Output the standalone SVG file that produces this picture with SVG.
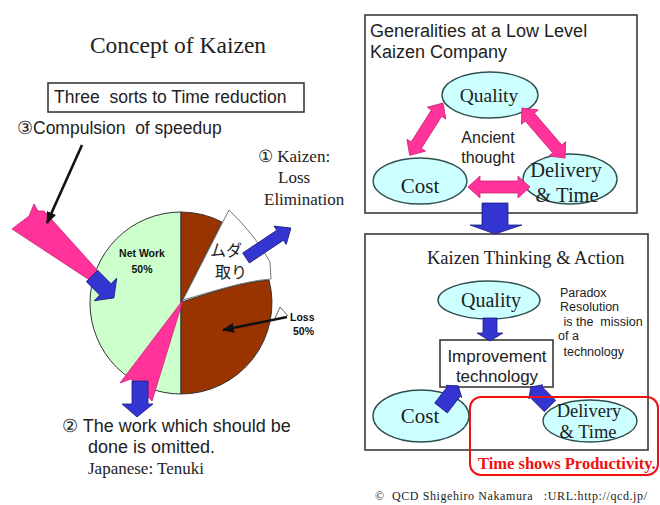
<svg xmlns="http://www.w3.org/2000/svg" width="660" height="505" viewBox="0 0 660 505">
  <style>
    .sans { font-family: "Liberation Sans", Arial, sans-serif; fill: #222; }
    .serif { font-family: "Liberation Serif", "Times New Roman", serif; fill: #222; }
    .pre { white-space: pre; }
    .box { fill: #fff; stroke: #3a3a3a; stroke-width: 1.6; }
    .oval { fill: #ccffff; stroke: #2f4f4f; stroke-width: 1.4; }
    .pink { fill: #ff3399; stroke: #cc2277; stroke-width: 0.8; stroke-linejoin: round; }
    .blue { fill: #3434d0; stroke: #1c1c80; stroke-width: 0.8; stroke-linejoin: round; }
    .ptr { stroke: #111; stroke-width: 2.6; fill: none; marker-end: url(#head); }
    .pct { font-family: "Liberation Sans", Arial, sans-serif; font-weight: bold; font-size: 10.5px; fill: #111; }
  </style>
  <defs>
    <marker id="head" viewBox="0 0 12 10" refX="11" refY="5" markerWidth="12" markerHeight="10" markerUnits="userSpaceOnUse" orient="auto">
      <path d="M0,0 L12,5 L0,10 Z" fill="#111"/>
    </marker>
  </defs>

  <!-- headings on the left -->
  <g id="title">
    <text class="serif" x="178" y="53" font-size="23.5" text-anchor="middle">Concept of Kaizen</text>
  </g>
  <g id="subtitle-box">
    <rect class="box" x="48" y="83" width="256" height="29"/>
    <text class="sans pre" x="54" y="103" font-size="17.5">Three  sorts to Time reduction</text>
  </g>

  <!-- pie of net work vs. loss -->
  <g id="pie">
    <path d="M181,212 A91,91 0 0 0 181,394 Z" fill="#ccffcc" stroke="#333" stroke-width="1"/>
    <path d="M181,303 L181,212 A91,91 0 0 1 222,222 Z" fill="#993300" stroke="#333" stroke-width="1"/>
    <path d="M182,302 C212,292 242,282 269,280 A91,91 0 0 1 181,394 L181,303 Z" fill="#993300" stroke="#333" stroke-width="1"/>
    <path d="M183,300 L229,210 Q256,236 270,262 L271,279 C244,281 214,291 183,300 Z" fill="#fff" stroke="#777" stroke-width="1"/>
    <text x="226" y="256" font-family="'Noto Sans CJK JP', sans-serif" font-size="16" fill="#222" text-anchor="middle">ムダ</text>
    <text x="231" y="278" font-family="'Noto Sans CJK JP', sans-serif" font-size="16" fill="#222" text-anchor="middle">取り</text>
    <text class="pct" x="142" y="257" text-anchor="middle">Net Work</text>
    <text class="pct" x="142" y="273" text-anchor="middle">50%</text>
    <path d="M275,318 L280,307 L288,316" fill="#fff" stroke="#666" stroke-width="1"/>
    <text class="pct" x="290" y="321">Loss</text>
    <text class="pct" x="293" y="335">50%</text>
    <!-- pink wedges -->
    <path class="pink" d="M12,229 C18,224 24,220 29,216 L34,204 L38,211 L44,211 L98,271 L91,281 Z"/>
    <path class="pink" d="M183,300 L120,383 L131,379 L152,401 Z"/>
  </g>

  <g id="label-compulsion">
    <text class="sans pre" x="17" y="134" font-size="17.5">③Compulsion  of speedup</text>
  </g>
  <g id="label-kaizen">
    <text class="serif" x="258" y="162" font-size="17">① Kaizen:</text>
    <text class="serif" x="278" y="183" font-size="17">Loss</text>
    <text class="serif" x="264" y="205" font-size="17">Elimination</text>
  </g>
  <g id="label-omitted">
    <text class="sans" x="62" y="432" font-size="18">② The work which should be</text>
    <text class="sans" x="88" y="453" font-size="18">done is omitted.</text>
    <text class="serif" x="88" y="474" font-size="17">Japanese: Tenuki</text>
  </g>

  <!-- upper panel: low-level kaizen company -->
  <g id="panel-low">
    <rect class="box" x="365" y="15" width="272" height="198"/>
    <text class="sans" x="370" y="37" font-size="18">Generalities at a Low Level</text>
    <text class="sans" x="370" y="58" font-size="18">Kaizen Company</text>
    <text class="sans" x="488" y="143" font-size="16" text-anchor="middle">Ancient</text>
    <text class="sans" x="488" y="163" font-size="16" text-anchor="middle">thought</text>
  </g>
  <g id="q1">
    <ellipse class="oval" cx="490" cy="95" rx="48" ry="23"/>
    <text class="serif" x="489" y="102" font-size="19.5" text-anchor="middle">Quality</text>
  </g>
  <g id="c1">
    <ellipse class="oval" cx="420" cy="181" rx="47" ry="23"/>
    <text class="serif" x="420" y="193" font-size="21" text-anchor="middle">Cost</text>
  </g>
  <g id="d1">
    <ellipse class="oval" cx="570" cy="179" rx="47" ry="25"/>
    <text class="serif" x="566" y="177" font-size="20.5" text-anchor="middle">Delivery</text>
    <text class="serif" x="567" y="202" font-size="20.5" text-anchor="middle">&amp; Time</text>
  </g>

  <!-- lower panel: kaizen thinking -->
  <g id="panel-kaizen">
    <rect class="box" x="365" y="234" width="283" height="216"/>
    <text class="serif" x="427" y="264" font-size="18.5">Kaizen Thinking &amp; Action</text>
  </g>
  <g id="paradox-note">
    <text class="sans" x="560" y="297" font-size="12.5">Paradox</text>
    <text class="sans" x="560" y="311" font-size="12.5">Resolution</text>
    <text class="sans pre" x="560" y="326" font-size="12.5"> is the  mission</text>
    <text class="sans" x="558" y="340" font-size="12.5">of a</text>
    <text class="sans pre" x="560" y="356" font-size="12.5"> technology</text>
  </g>
  <g id="q2">
    <ellipse class="oval" cx="489" cy="300" rx="51" ry="19"/>
    <text class="serif" x="491" y="307" font-size="20" text-anchor="middle">Quality</text>
  </g>
  <g id="c2">
    <ellipse class="oval" cx="421" cy="416" rx="48" ry="26"/>
    <text class="serif" x="420" y="423" font-size="21" text-anchor="middle">Cost</text>
  </g>
  <g id="d2">
    <ellipse class="oval" cx="590" cy="421" rx="47" ry="21"/>
    <text class="serif" x="589" y="417" font-size="18.5" text-anchor="middle">Delivery</text>
    <text class="serif" x="588" y="438" font-size="18.5" text-anchor="middle">&amp; Time</text>
  </g>
  <g id="improve">
    <rect class="box" x="440" y="340" width="113" height="47"/>
    <text class="sans" x="497" y="362" font-size="17" text-anchor="middle">Improvement</text>
    <text class="sans" x="497" y="382" font-size="17" text-anchor="middle">technology</text>
  </g>

  <!-- arrows and pointers -->
  <g id="connectors">
    <!-- black pointers -->
    <line class="ptr" x1="82" y1="145" x2="47" y2="223"/>
    <line class="ptr" x1="287" y1="317" x2="223" y2="330"/>
    <!-- blue block arrows on the pie -->
    <path class="blue" transform="translate(92,276) rotate(45)" d="M0,-8 L19,-8 L19,-16 L31,0 L19,16 L19,8 L0,8 Z"/>
    <path class="blue" d="M132,381 L148,381 L148,404 L153,404 L137,417 L122,404 L132,404 Z"/>
    <path class="blue" transform="translate(246,258) rotate(-33.7)" d="M0,-6 L41,-6 L41,-11 L54,0 L41,11 L41,6 L0,6 Z"/>
    <!-- pink two-way arrows between Q, C and D -->
    <path class="pink" transform="translate(443,103) rotate(122.4)" d="M0,0 L12,-11 L12,-6 L50,-6 L50,-11 L62,0 L50,11 L50,6 L12,6 L12,11 Z"/>
    <path class="pink" transform="translate(522,108) rotate(49.3)" d="M0,0 L12,-11 L12,-6 L54,-6 L54,-11 L66,0 L54,11 L54,6 L12,6 L12,11 Z"/>
    <path class="pink" transform="translate(468,187)" d="M0,0 L12,-11 L12,-6 L50,-6 L50,-11 L62,0 L50,11 L50,6 L12,6 L12,11 Z"/>
    <!-- panel to panel -->
    <path class="blue" d="M482,203 L508,203 L508,225 L522,225 L495,234 L470,225 L482,225 Z"/>
    <!-- into improvement technology -->
    <path class="blue" d="M483,318 L497,318 L497,333 L503,333 L490,341 L477,333 L483,333 Z"/>
    <path class="blue" transform="translate(441,408) rotate(-52.3)" d="M0,-8 L21,-8 L21,-10 L28,0 L21,10 L21,8 L0,8 Z"/>
    <path class="blue" transform="translate(550,406) rotate(-135)" d="M0,-8 L20,-8 L20,-10 L27,0 L20,10 L20,8 L0,8 Z"/>
  </g>

  <g id="productivity">
    <rect x="470" y="397" width="188" height="78" rx="11" fill="none" stroke="#ee1111" stroke-width="2"/>
    <text x="478" y="469" font-family="'Liberation Serif', 'Times New Roman', serif" font-weight="bold" font-size="16.5" fill="#ee1111">Time shows Productivity.</text>
  </g>

  <g id="footer">
    <text class="serif pre" x="375" y="500" font-size="12" textLength="272" lengthAdjust="spacing">©  QCD Shigehiro Nakamura   :URL:http://qcd.jp/</text>
  </g>
</svg>
